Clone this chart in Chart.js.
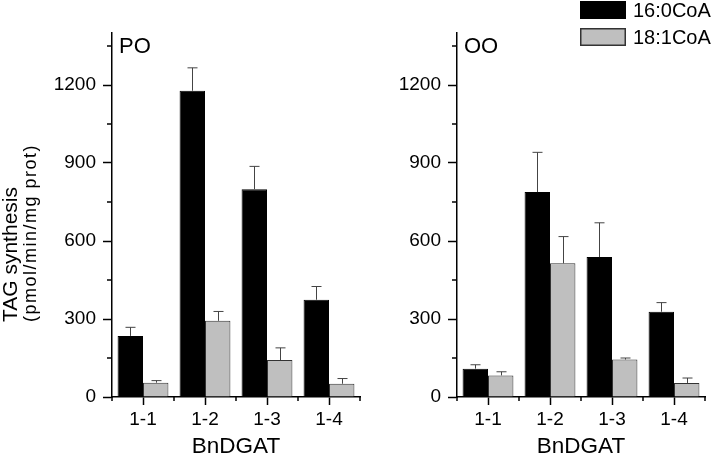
<!DOCTYPE html>
<html><head><meta charset="utf-8">
<script src="https://cdn.jsdelivr.net/npm/chart.js@4.4.1/dist/chart.umd.min.js"></script>
<style>
html,body{margin:0;padding:0;background:#fff}
#wrap{position:relative;width:714px;height:454px;overflow:hidden}
#p1{position:absolute;left:0;top:0;width:380px;height:454px}
#p2{position:absolute;left:380px;top:0;width:334px;height:454px}
</style></head><body>
<div id="wrap"><div id="p1"><canvas id="c1"></canvas></div><div id="p2"><canvas id="c2"></canvas></div></div>
<script>
// ---- data ----
const categories = ['1-1', '1-2', '1-3', '1-4'];
const seriesNames = ['16:0CoA', '18:1CoA'];
const panelNames = ['PO', 'OO'];
// PO panel
const poPalmitoyl = [235, 1178, 799, 374];
const poPalmitoylErr = [33, 88, 88, 51];
const poOleoyl = [55, 293, 142, 51];
const poOleoylErr = [8, 36, 47, 20];
// OO panel
const ooPalmitoyl = [109, 788, 538, 328];
const ooPalmitoylErr = [15, 153, 132, 35];
const ooOleoyl = [83, 514, 144, 54];
const ooOleoylErr = [14, 103, 6, 19];
// axis ticks
const yTicks = [0, 150, 300, 450, 600, 750, 900, 1050, 1200, 1350];
const yLabelTicks = [0, 300, 600, 900, 1200];
const yMax = 1400;
const xTitle = 'BnDGAT';
const yTitle = 'TAG synthesis';
const yTitleUnit = '(pmol/min/mg prot)';

const FONT = "'Liberation Sans', Arial, Helvetica, sans-serif";
const TICK_SIZE = 19;
Chart.defaults.font.family = FONT;
Chart.defaults.font.size = TICK_SIZE;
Chart.defaults.color = '#000';

const colors = ['#000000', '#bfbfbf'];
const borders = ['#000000', '#333333'];

const errorBarPlugin = {
  id: 'errorBars',
  afterDatasetsDraw(chart) {
    const ctx = chart.ctx, ys = chart.scales.y;
    ctx.save();
    ctx.strokeStyle = '#444';
    ctx.lineWidth = 1;
    chart.data.datasets.forEach((ds, di) => {
      const meta = chart.getDatasetMeta(di);
      meta.data.forEach((bar, i) => {
        const v = ds.data[i], e = ds.errorBars[i];
        const y0 = ys.getPixelForValue(v), y1 = ys.getPixelForValue(v + e);
        const x = Math.round(bar.x) + 0.5;
        ctx.beginPath();
        ctx.moveTo(x, y0); ctx.lineTo(x, y1);
        ctx.moveTo(x - 5, y1); ctx.lineTo(x + 5, y1);
        ctx.stroke();
      });
    });
    ctx.restore();
  }
};

const decorPlugin = {
  id: 'decor',
  afterDraw(chart, args, opts) {
    const ctx = chart.ctx, ca = chart.chartArea, ys = chart.scales.y, xs = chart.scales.x;
    ctx.save();
    ctx.strokeStyle = '#000';
    ctx.lineWidth = 1.5;
    // minor y ticks
    yTicks.filter(v => !yLabelTicks.includes(v)).forEach(v => {
      const py = ys.getPixelForValue(v);
      ctx.beginPath(); ctx.moveTo(ca.left - 5, py); ctx.lineTo(ca.left, py); ctx.stroke();
    });
    // minor x ticks at category boundaries
    const half = (xs.getPixelForValue(1) - xs.getPixelForValue(0)) / 2;
    for (let i = 0; i <= categories.length; i++) {
      const px = i < categories.length ? xs.getPixelForValue(i) - half : xs.getPixelForValue(i - 1) + half;
      ctx.beginPath(); ctx.moveTo(px, ca.bottom); ctx.lineTo(px, ca.bottom + 4); ctx.stroke();
    }
    // panel label
    ctx.fillStyle = '#000';
    ctx.font = '22px ' + FONT;
    ctx.textAlign = 'left';
    ctx.textBaseline = 'alphabetic';
    ctx.fillText(opts.label, ca.left + 7, ca.top + 20);
    // y title
    if (opts.yTitle) {
      ctx.save();
      ctx.translate(17, 322);
      ctx.rotate(-Math.PI / 2);
      ctx.font = '21px ' + FONT;
      ctx.fillText(yTitle, 0, 0);
      ctx.restore();
      ctx.save();
      ctx.translate(36, 322);
      ctx.rotate(-Math.PI / 2);
      ctx.font = '18px ' + FONT;
      ctx.letterSpacing = '1.5px';
      ctx.fillText(yTitleUnit, 0, 0);
      ctx.restore();
    }
    // legend
    if (opts.legend) {
      chart.data.datasets.forEach((ds, i) => {
        const bx = 200, by = 1 + i * 27;
        ctx.fillStyle = ds.backgroundColor;
        ctx.fillRect(bx, by, 46, 18);
        ctx.strokeStyle = ds.borderColor;
        ctx.lineWidth = 1.5;
        ctx.strokeRect(bx + 0.75, by + 0.75, 44.5, 16.5);
        ctx.fillStyle = '#000';
        ctx.font = '20px ' + FONT;
        ctx.textBaseline = 'middle';
        ctx.fillText(ds.label, 253, by + 10);
      });
    }
    ctx.restore();
  }
};

function makePanel(id, label, d1, e1, d2, e2, yAxisWidth, padRight, showYTitle, showLegend) {
  return new Chart(document.getElementById(id), {
    type: 'bar',
    data: {
      labels: categories,
      datasets: [
        { label: seriesNames[0], data: d1, errorBars: e1, backgroundColor: colors[0], borderColor: borders[0], borderWidth: 1, categoryPercentage: 0.82, barPercentage: 1 },
        { label: seriesNames[1], data: d2, errorBars: e2, backgroundColor: colors[1], borderColor: borders[1], borderWidth: 1, categoryPercentage: 0.82, barPercentage: 1 }
      ]
    },
    options: {
      responsive: true,
      maintainAspectRatio: false,
      animation: false,
      layout: { padding: { top: 33, right: padRight, left: 0, bottom: 0 } },
      plugins: {
        legend: { display: false },
        tooltip: { enabled: false },
        decor: { label: label, yTitle: showYTitle, legend: showLegend }
      },
      scales: {
        x: {
          offset: true,
          grid: { display: true, drawOnChartArea: false, offset: false, tickLength: 8, tickColor: '#000', tickWidth: 1.5 },
          border: { display: true, color: '#000', width: 1.5 },
          ticks: { font: { family: FONT, size: TICK_SIZE }, color: '#000', padding: 3, maxRotation: 0 },
          title: { display: true, text: xTitle, font: { family: FONT, size: 22.5, lineHeight: 0.65 }, padding: { top: 0, bottom: 0 }, color: '#000' },
          afterFit(s) { s.height = 57; }
        },
        y: {
          min: 0, max: yMax,
          afterBuildTicks(s) { s.ticks = yTicks.map(v => ({ value: v })); },
          ticks: { font: { family: FONT, size: TICK_SIZE }, color: '#000', padding: 7, autoSkip: false,
                   callback: (v) => yLabelTicks.includes(v) ? String(v) : '' },
          grid: { display: true, drawOnChartArea: false, tickLength: 9, tickWidth: 1.5,
                  tickColor: (c) => (c.tick && yLabelTicks.includes(c.tick.value)) ? '#000' : 'rgba(0,0,0,0)' },
          border: { display: true, color: '#000', width: 1.5 },
          afterFit(s) { s.width = yAxisWidth; }
        }
      }
    },
    plugins: [errorBarPlugin, decorPlugin]
  });
}

makePanel('c1', panelNames[0], poPalmitoyl, poPalmitoylErr, poOleoyl, poOleoylErr, 112, 20, true, false);
makePanel('c2', panelNames[1], ooPalmitoyl, ooPalmitoylErr, ooOleoyl, ooOleoylErr, 77, 9, false, true);
</script>
</body></html>
